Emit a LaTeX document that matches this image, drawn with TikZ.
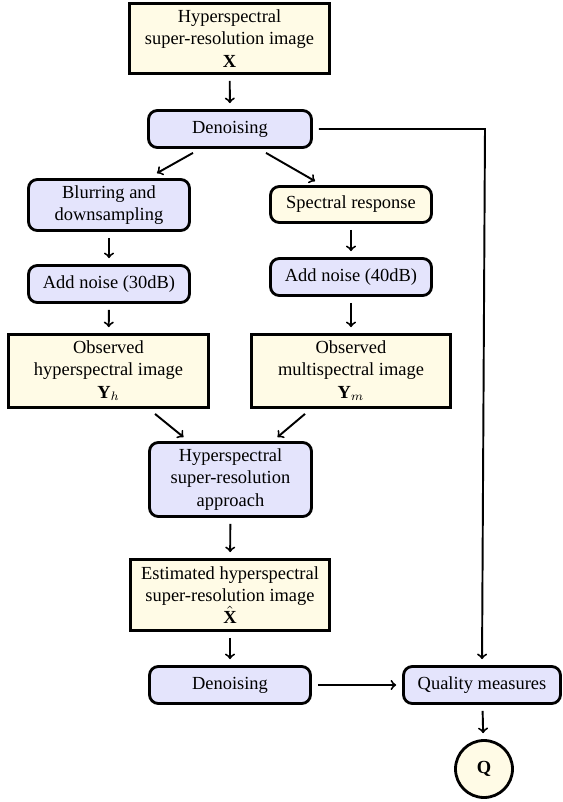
\documentclass[tikz,border=0pt]{standalone}
\usepackage{fontspec}
\setmainfont{Liberation Serif}
\usetikzlibrary{calc}
\definecolor{boxyellow}{RGB}{255,251,230}
\definecolor{boxblue}{RGB}{228,228,252}
\tikzset{
  txt/.style={align=center, inner sep=2pt, font=\fontsize{10.5pt}{12.6pt}\selectfont},
  imgbox/.style={txt, draw, line width=1.6pt, fill=boxyellow},
  opbox/.style={txt, draw, line width=1.6pt, fill=boxblue, rounded corners=5pt},
  arr/.style={->, line width=1.1pt, shorten <=3.4pt, shorten >=3.4pt},
  diag/.style={->, line width=1.1pt},
}
\begin{document}
\begin{tikzpicture}[x=0.02cm, y=-0.02cm]
\useasboundingbox (0,0) rectangle (563,802);
% images (yellow) and operations (blue)
\node[imgbox, minimum width=4cm, minimum height=1.4cm] (hsi) at (229.5,38.5) {Hyperspectral\\super-resolution image\\$\textbf{X}$};
\node[opbox, minimum width=3.26cm, minimum height=0.74cm] (den1) at (230,129) {Denoising};
\node[opbox, minimum width=3.22cm, minimum height=1.02cm] (blur) at (109,205) {Blurring and\\downsampling};
\node[opbox, fill=boxyellow, minimum width=3.22cm, minimum height=0.72cm] (srf) at (351,204.5) {Spectral response};
\node[opbox, minimum width=3.22cm, minimum height=0.74cm] (noiseh) at (109,284) {Add noise (30dB)};
\node[opbox, minimum width=3.22cm, minimum height=0.74cm] (noisem) at (351,277) {Add noise (40dB)};
\node[imgbox, minimum width=4cm, minimum height=1.46cm] (obsh) at (108.5,371) {Observed\\hyperspectral image\\$\textbf{Y}_h$};
\node[imgbox, minimum width=3.98cm, minimum height=1.46cm] (obsm) at (351,371) {Observed\\multispectral image\\$\textbf{Y}_m$};
\node[opbox, minimum width=3.24cm, minimum height=1.48cm] (hsr) at (230.5,479.5) {Hyperspectral\\super-resolution\\approach};
\node[imgbox, minimum width=3.98cm, minimum height=1.42cm] (est) at (230,595) {Estimated hyperspectral\\super-resolution image\\$\hat{\textbf{X}}$};
\node[opbox, minimum width=3.22cm, minimum height=0.74cm] (den2) at (230,685) {Denoising};
\node[opbox, minimum width=3.14cm, minimum height=0.74cm] (qm) at (482,685) {Quality measures};
\node[txt, circle, draw, line width=1.6pt, fill=boxyellow, minimum size=1.14cm] (q) at (484,769) {$\textbf{Q}$};
\coordinate (corner) at (485,129);
% connectors
\draw[arr] (hsi) -- (den1);
\draw[diag] ($(den1.south)+(-37,4)$) -- ($(blur.north)+(48,-5)$);
\draw[diag] ($(den1.south)+(36,4)$) -- ($(srf.north)+(-36,-4)$);
\draw[arr] (den1.east) -- (corner) -- (qm.north);
\draw[arr] (blur) -- (noiseh);
\draw[arr] (srf) -- (noisem);
\draw[arr] (noiseh) -- (obsh);
\draw[arr] (noisem) -- (obsm);
\draw[diag] ($(obsh.south)+(46.5,5)$) -- ($(hsr.north)+(-47,-4)$);
\draw[diag] ($(obsm.south)+(-46,5)$) -- ($(hsr.north)+(47,-4)$);
\draw[arr] (hsr) -- (est);
\draw[arr] (est) -- (den2);
\draw[arr] (den2) -- (qm);
\draw[arr] (qm) -- (q);
\end{tikzpicture}
\end{document}
